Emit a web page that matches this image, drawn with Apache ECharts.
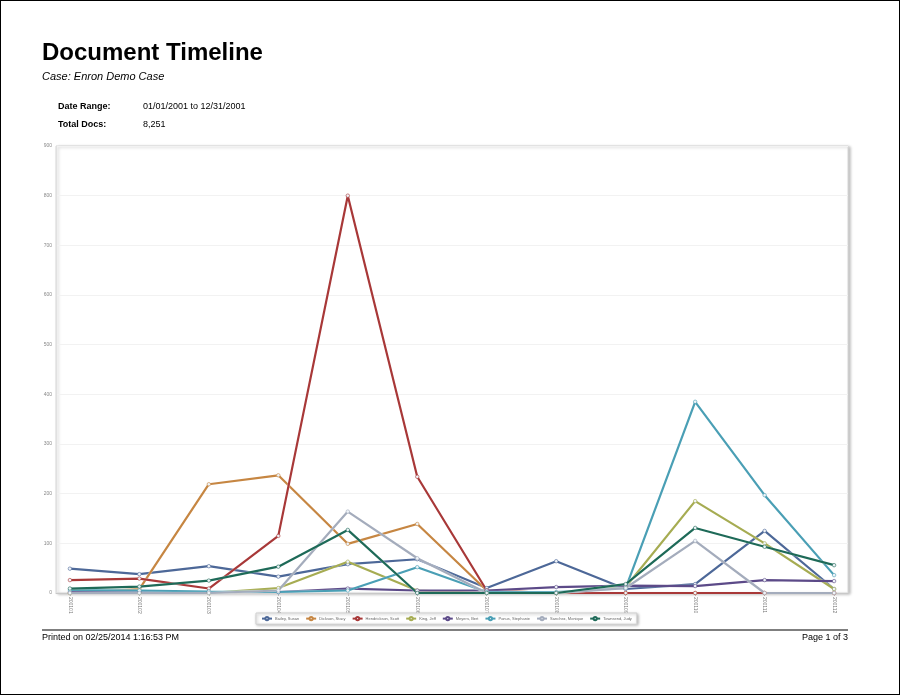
<!DOCTYPE html>
<html>
<head>
<meta charset="utf-8">
<script src="https://cdn.jsdelivr.net/npm/echarts@6/dist/echarts.min.js"></script>
<style>
html,body{margin:0;padding:0;background:#fff;}
#page{position:absolute;left:0;top:0;width:898px;height:693px;border:1px solid #000;}
#chart{position:absolute;left:0;top:0;width:900px;height:695px;}
</style>
</head>
<body>
<div id="page"></div>
<div id="chart"></div>
<script>
const categories = ['200101','200102','200103','200104','200105','200106','200107','200108','200109','200110','200111','200112'];
const seriesNames = ['Bailey, Susan','Dickson, Stacy','Hendrickson, Scott','King, Jeff','Meyers, Bert','Panus, Stephanie','Sanchez, Monique','Townsend, Judy'];
const bailey      = [49, 38, 54, 33, 58, 68, 10, 64, 8, 18, 125, 8];
const dickson     = [0, 8, 219, 237, 99, 139, 5, 0, 0, 0, 0, 0];
const hendrickson = [26, 29, 9, 115, 800, 234, 5, 0, 0, 0, 0, 0];
const king        = [0, 0, 0, 10, 63, 5, 0, 0, 12, 185, 100, 8];
const meyers      = [2, 2, 2, 2, 9, 5, 5, 12, 15, 14, 26, 24];
const panus       = [6, 5, 3, 2, 5, 52, 2, 2, 10, 385, 197, 36];
const sanchez     = [0, 0, 0, 5, 164, 70, 0, 0, 10, 105, 0, 0];
const townsend    = [9, 13, 25, 53, 127, 0, 0, 0, 18, 131, 93, 56];
const yTicks = [0,100,200,300,400,500,600,700,800,900];

const allValues = [bailey, dickson, hendrickson, king, meyers, panus, sanchez, townsend];
const colors = ['#4d6898','#c68642','#a83838','#a6ac52','#5c4a88','#4a9fb5','#a4acbc','#1e6a58'];

const chart = echarts.init(document.getElementById('chart'), null, {renderer:'canvas'});
const idx = categories.map((c,i)=>i);

const series = seriesNames.map((name,k)=>({
  name: name,
  type: 'line',
  data: allValues[k].map((v,i)=>[i,v]),
  symbol: 'circle',
  symbolSize: 3.5,
  showSymbol: true,
  lineStyle: {width: 2.2, color: colors[k], shadowBlur: 1, shadowColor: 'rgba(255,255,255,0.9)'},
  itemStyle: {color: '#eef3f8', borderColor: colors[k], borderWidth: 0.6},
  emphasis: {disabled: true},
  animation: false
}));

const base = {padding: 0};
chart.setOption({
  animation: false,
  textStyle: {fontFamily: 'Liberation Sans, Arial, sans-serif'},
  title: [
    {...base, text: 'Document Timeline', left: 42, top: 41, textStyle: {fontSize: 24, fontWeight: 'bold', color: '#000', fontFamily: 'Liberation Sans, Arial'}},
    {...base, text: 'Case: Enron Demo Case', left: 42, top: 71, textStyle: {fontSize: 11, fontStyle: 'italic', fontWeight: 'normal', color: '#000', fontFamily: 'Liberation Sans, Arial'}},
    {...base, text: 'Date Range:', left: 58, top: 102, textStyle: {fontSize: 9, fontWeight: 'bold', color: '#000', fontFamily: 'Liberation Sans, Arial'}},
    {...base, text: '01/01/2001 to 12/31/2001', left: 143, top: 102, textStyle: {fontSize: 9, fontWeight: 'normal', color: '#000', fontFamily: 'Liberation Sans, Arial'}},
    {...base, text: 'Total Docs:', left: 58, top: 120, textStyle: {fontSize: 9, fontWeight: 'bold', color: '#000', fontFamily: 'Liberation Sans, Arial'}},
    {...base, text: '8,251', left: 143, top: 120, textStyle: {fontSize: 9, fontWeight: 'normal', color: '#000', fontFamily: 'Liberation Sans, Arial'}},
    {...base, text: 'Printed on 02/25/2014 1:16:53 PM', left: 42, top: 633, textStyle: {fontSize: 9, fontWeight: 'normal', color: '#000', fontFamily: 'Liberation Sans Narrow, Liberation Sans, Arial'}},
    {...base, text: 'Page 1 of 3', right: 52, top: 633, textStyle: {fontSize: 9, fontWeight: 'normal', color: '#000', fontFamily: 'Liberation Sans Narrow, Liberation Sans, Arial'}}
  ],
  graphic: [
    {type: 'line', shape: {x1: 42, y1: 630, x2: 848, y2: 630}, style: {stroke: '#555', lineWidth: 1.5}},
    {type: 'rect', z: -1, shape: {x: 56, y: 146, width: 792, height: 447}, style: {fill: '#fff', stroke: '#d8d8d8', lineWidth: 1, shadowBlur: 3, shadowColor: 'rgba(0,0,0,0.25)', shadowOffsetX: 2, shadowOffsetY: 1}}
  ],
  grid: {left: 56, right: 52, top: 146, bottom: 102, containLabel: false},
  xAxis: {
    type: 'value', min: -0.2, max: 11.2,
    axisLine: {show: true, lineStyle: {color: '#c8c8c8', width: 1}},
    axisTick: {show: true, customValues: idx, length: 3, lineStyle: {color: '#bbb'}},
    axisLabel: {customValues: idx, formatter: v => categories[Math.round(v)] || '', rotate: -90, fontSize: 5, color: '#777', margin: 4},
    splitLine: {show: false}
  },
  yAxis: {
    type: 'value', min: 0, max: 900, interval: 100,
    axisLine: {show: true, onZero: false, lineStyle: {color: '#e0e0e0'}},
    axisTick: {show: false},
    axisLabel: {fontSize: 5, color: '#888', margin: 4, formatter: v => yTicks.includes(v) ? String(v) : ''},
    splitLine: {show: true, lineStyle: {color: '#f2f2f2', width: 1}}
  },
  legend: {
    data: seriesNames,
    left: 256, top: 613,
    itemWidth: 10, itemHeight: 4, itemGap: 6,
    padding: [3, 5],
    textStyle: {fontSize: 4, color: '#666', padding: [0,0,0,-2]},
    backgroundColor: '#fff',
    borderColor: '#d0d0d0', borderWidth: 1,
    shadowBlur: 3, shadowColor: 'rgba(0,0,0,0.3)', shadowOffsetX: 1, shadowOffsetY: 1
  },
  series: series
});
</script>
</body>
</html>
